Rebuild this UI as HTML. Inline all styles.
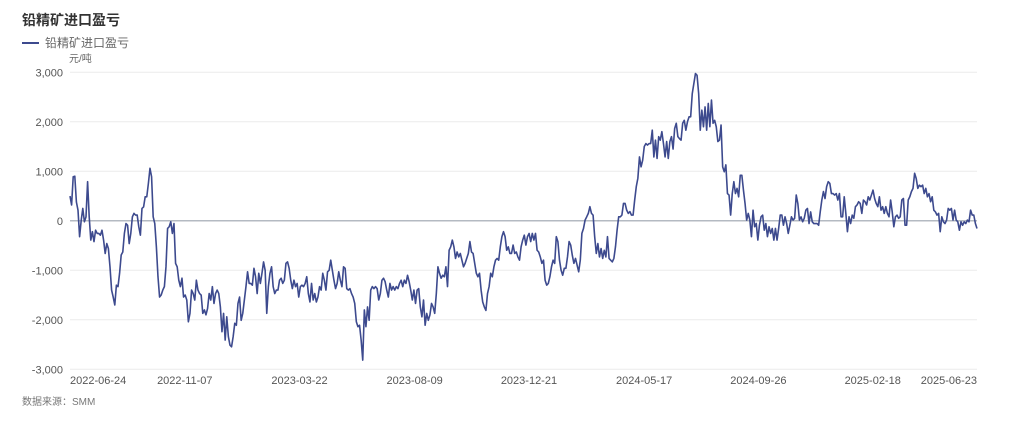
<!DOCTYPE html>
<html><head><meta charset="utf-8">
<style>
html,body{margin:0;padding:0;background:#fff;}
body{width:1024px;height:418px;overflow:hidden;font-family:"Liberation Sans","Noto Sans CJK SC",sans-serif;}
svg text{font-family:"Liberation Sans","Noto Sans CJK SC",sans-serif;}
</style></head>
<body>
<svg id="chart" width="1024" height="418" viewBox="0 0 1024 418" xmlns="http://www.w3.org/2000/svg">
  <text x="22" y="25" font-size="14" font-weight="bold" fill="#333">铅精矿进口盈亏</text>
  <g>
    <line x1="22" y1="43" x2="39" y2="43" stroke="#3d4a8e" stroke-width="2"/>
    <text x="45" y="47" font-size="12" fill="#666">铅精矿进口盈亏</text>
  </g>
  <text x="69" y="62" font-size="10" fill="#666">元/吨</text>
  <g id="grid"></g>
  <g id="yticks"></g>
  <g id="xticks"></g>
  <g id="series"></g>
  <text x="22" y="405" font-size="10" fill="#777">数据来源：SMM</text>
</svg>
<script>
const yTicks = [3000, 2000, 1000, 0, -1000, -2000, -3000];
const yTickLabels = ["3,000","2,000","1,000","0","-1,000","-2,000","-3,000"];
const xTickLabels = ["2022-06-24","2022-11-07","2023-03-22","2023-08-09","2023-12-21","2024-05-17","2024-09-26","2025-02-18","2025-06-23"];
const xTickIndex = [0, 0.096, 0.222, 0.349, 0.475, 0.602, 0.728, 0.854, 0.938];
const profit = [
500,320,890,900,380,215,-320,10,250,-20,80,790,80,-390,-220,-420,-190,-255,-255,-290,-190,-390,-660,-460,-560,-930,-1400,-1540,-1700,-1300,-1330,-1060,-690,-630,-255,-55,-90,-460,-255,80,150,115,115,-120,-290,250,280,485,485,755,1060,890,80,-55,-525,-1130,-1540,-1500,-1400,-1330,-930,-155,-120,-20,-255,-55,-860,-930,-1200,-1330,-1160,-1540,-1500,-1600,-2040,-1870,-1400,-1470,-1600,-1200,-1400,-1470,-1500,-1870,-1800,-1900,-1770,-1470,-1600,-1330,-1670,-1470,-1400,-1470,-1740,-2240,-1870,-2410,-1940,-2340,-2510,-2545,-2340,-2070,-2110,-1670,-1540,-2010,-1870,-1600,-1330,-1030,-1265,-1265,-1300,-960,-1130,-1470,-1060,-1265,-1060,-830,-1000,-1870,-1330,-1060,-930,-1330,-1470,-1400,-1400,-1200,-1160,-1265,-1200,-860,-830,-960,-1200,-1370,-1200,-1330,-1265,-1540,-1330,-1300,-1330,-1265,-1130,-1470,-1640,-1265,-1600,-1470,-1640,-1540,-1330,-1400,-1060,-1200,-1400,-1030,-1000,-795,-1000,-1200,-1370,-1265,-1030,-1200,-1330,-930,-960,-1370,-1400,-1370,-1470,-1540,-1670,-2040,-2140,-2110,-2410,-2815,-1800,-2140,-1740,-2010,-1400,
-1330,-1370,-1330,-1370,-1600,-1470,-1200,-1160,-1230,-1400,-1540,-1265,-1400,-1330,-1400,-1330,-1370,-1265,-1200,-1330,-1200,-1265,-1100,-1230,-1400,-1600,-1400,-1670,-1400,-1370,-1740,-1940,-1600,-2110,-1870,-2010,-1900,-1670,-1740,-1870,-1470,-930,-1060,-1160,-1100,-1130,-930,-1330,-595,-525,-390,-525,-760,-630,-730,-660,-795,-930,-860,-760,-660,-420,-630,-660,-860,-1060,-1130,-1060,-1400,-1640,-1740,-1810,-1470,-1330,-1060,-1130,-930,-795,-760,-795,-525,-320,-220,-320,-595,-525,-660,-660,-490,-660,-630,-730,-795,-525,-390,-290,-490,-320,-255,-420,-255,-390,-255,-595,-630,-730,-860,-795,-1200,-1300,-1265,-1130,-930,-795,-860,-320,-420,-795,-1000,-1100,-960,-960,-730,-420,-490,-695,-860,-760,-895,-1030,-795,-255,-155,15,80,150,285,150,115,-320,-660,-460,-730,-560,-760,-595,-730,-320,-760,-795,-830,-760,-525,-190,80,80,115,350,350,215,150,185,115,115,420,690,860,1290,1090,1225,1500,1560,1530,1560,1560,1830,1290,1630,1260,1700,1630,1800,
1560,1290,1600,1260,1600,1700,1450,1865,1970,1700,1660,1630,1970,2030,1830,2000,2100,2100,2570,2775,2975,2940,2570,1830,2235,1900,2300,1830,2370,1900,2440,1970,2030,1900,1600,1630,1935,1090,990,1130,550,520,115,550,790,550,655,485,920,920,620,350,15,150,15,-320,215,-120,-55,-390,-90,80,115,-190,-55,-320,-120,-255,-155,-390,-155,-390,-155,115,115,-90,80,-55,-255,-90,80,15,50,520,350,15,80,-20,50,215,250,-55,180,-20,-55,-55,-55,-90,180,420,590,450,690,790,755,550,550,520,550,420,550,80,80,485,150,-220,80,-55,115,50,285,320,385,350,150,420,385,320,485,420,520,620,450,350,285,485,215,285,150,285,150,80,420,180,-120,80,115,50,80,420,450,-90,-90,420,485,590,655,960,855,655,720,690,720,550,655,485,550,385,485,215,180,115,150,-220,80,-20,-55,15,250,215,250,15,215,15,-20,-190,-20,-90,-20,-55,15,-20,215,115,115,-55,-155
];

const X0 = 70, X1 = 977, Y_TOP = 72.3, Y_BOT = 369.3, VMAX = 3000, VMIN = -3000;
function yScale(v){ return Y_TOP + (VMAX - v) / (VMAX - VMIN) * (Y_BOT - Y_TOP); }
function xScale(i){ return X0 + i / (profit.length - 1) * (X1 - X0); }
function xFrac(f){ return X0 + f * (X1 - X0); }

const NS = "http://www.w3.org/2000/svg";
const grid = document.getElementById('grid');
const yt = document.getElementById('yticks');
yTicks.forEach((v, k) => {
  const ln = document.createElementNS(NS, 'line');
  
  
  ln.setAttribute('x1', X0); ln.setAttribute('x2', X1);
  ln.setAttribute('y1', yScale(v)); ln.setAttribute('y2', yScale(v));
  ln.setAttribute('stroke', v === 0 ? '#9ca3ad' : '#ececec');
  ln.setAttribute('stroke-width', v === 0 ? 1.2 : 1);
  grid.appendChild(ln);
  const t = document.createElementNS(NS, 'text');
  
  
  t.setAttribute('x', 63); t.setAttribute('y', yScale(v) + 4);
  t.setAttribute('text-anchor', 'end');
  t.setAttribute('font-size', '11'); t.setAttribute('fill', '#555');
  t.textContent = yTickLabels[k];
  yt.appendChild(t);
});

const xt = document.getElementById('xticks');
xTickLabels.forEach((lab, k) => {
  const t = document.createElementNS(NS, 'text');
  
  
  t.setAttribute('x', xFrac(xTickIndex[k])); t.setAttribute('y', 384);
  t.setAttribute('font-size', '11'); t.setAttribute('fill', '#555');
  t.textContent = lab;
  xt.appendChild(t);
});

const d = profit.map((v, i) => (i ? 'L' : 'M') + xScale(i).toFixed(2) + ' ' + yScale(v).toFixed(2)).join(' ');
const path = document.createElementNS(NS, 'path');


path.setAttribute('d', d);
path.setAttribute('fill', 'none');
path.setAttribute('stroke', '#3d4a8e');
path.setAttribute('stroke-width', '1.6');
path.setAttribute('stroke-linejoin', 'round');
document.getElementById('series').appendChild(path);
</script>
</body></html>
